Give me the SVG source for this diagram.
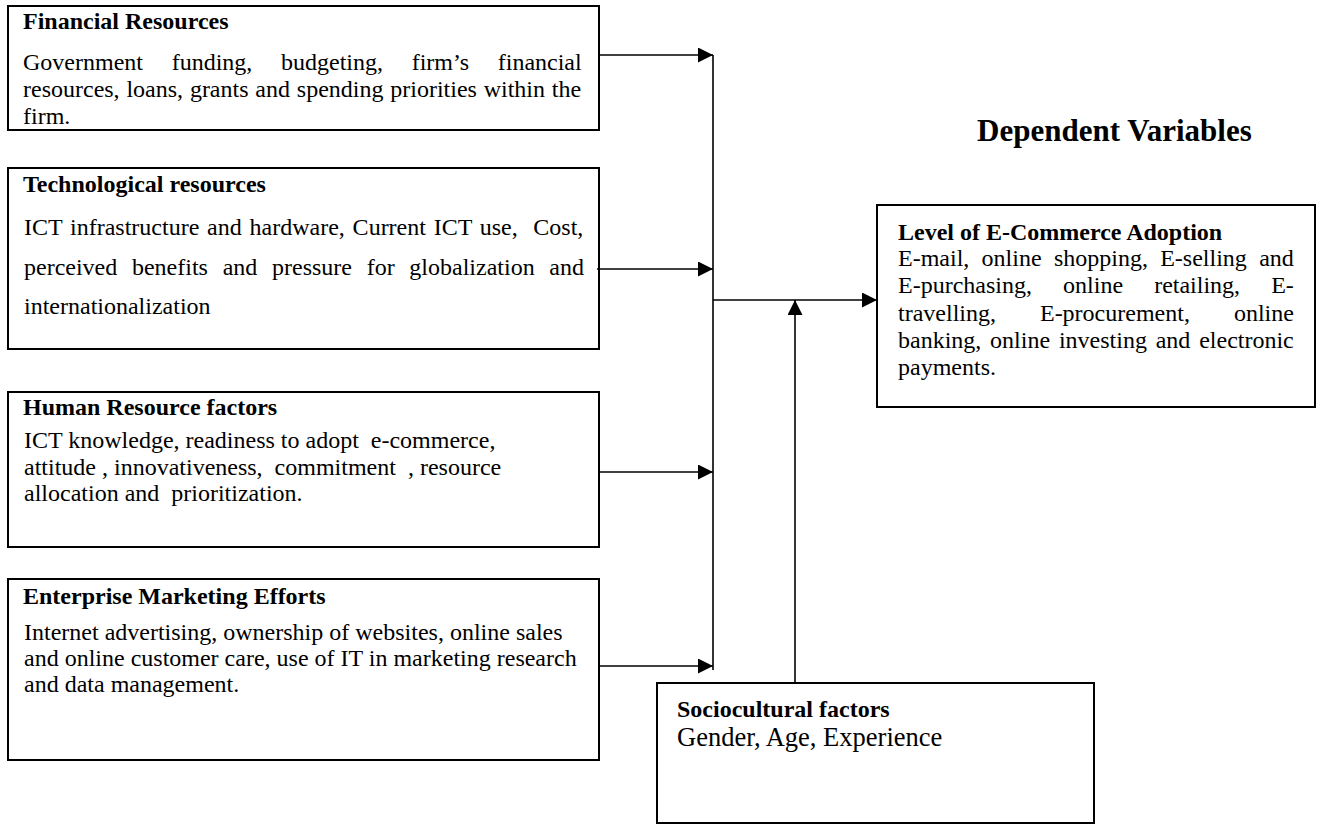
<svg xmlns="http://www.w3.org/2000/svg" width="1322" height="825" viewBox="0 0 1322 825">
<defs>
<style>
.box{fill:#fff;stroke:#000;stroke-width:2}
.h{font-family:"Liberation Serif","Times New Roman",serif;font-weight:bold;font-size:24px;fill:#000}
.t{font-family:"Liberation Serif","Times New Roman",serif;font-size:24px;fill:#000}
.c{fill:none;stroke:#000;stroke-width:1.6}
</style>
<marker id="ah" markerUnits="userSpaceOnUse" markerWidth="16" markerHeight="16" refX="15" refY="7.5" orient="auto">
<path d="M0,0 L15,7.5 L0,15 z" fill="#000"/>
</marker>
</defs>
<rect width="1322" height="825" fill="#fff"/>

<g id="financial">
<rect class="box" x="8" y="6" width="591" height="124"/>
<text class="h" x="23" y="29">Financial Resources</text>
<text class="t" x="23" y="70" word-spacing="22.7">Government funding, budgeting, firm’s financial</text>
<text class="t" x="23" y="97" word-spacing="0.8">resources, loans, grants and spending priorities within the</text>
<text class="t" x="23" y="124">firm.</text>
</g>

<g id="technological">
<rect class="box" x="8" y="168" width="591" height="181"/>
<text class="h" x="23" y="192">Technological resources</text>
<text class="t" x="24" y="235" word-spacing="1.8" xml:space="preserve">ICT infrastructure and hardware, Current ICT use,  Cost,</text>
<text class="t" x="24" y="275" word-spacing="8.7">perceived benefits and pressure for globalization and</text>
<text class="t" x="24" y="314">internationalization</text>
</g>

<g id="human">
<rect class="box" x="8" y="392" width="591" height="155"/>
<text class="h" x="23" y="415">Human Resource factors</text>
<text class="t" x="24" y="448" xml:space="preserve">ICT knowledge, readiness to adopt  e-commerce,</text>
<text class="t" x="24" y="475" xml:space="preserve">attitude , innovativeness,  commitment  , resource</text>
<text class="t" x="24" y="501" xml:space="preserve">allocation and  prioritization.</text>
</g>

<g id="enterprise">
<rect class="box" x="8" y="579" width="591" height="181"/>
<text class="h" x="23" y="604">Enterprise Marketing Efforts</text>
<text class="t" x="24" y="640">Internet advertising, ownership of websites, online sales</text>
<text class="t" x="24" y="666">and online customer care, use of IT in marketing research</text>
<text class="t" x="24" y="692">and data management.</text>
</g>

<g id="dependent-title">
<text class="h" x="977" y="141" style="font-size:31px">Dependent Variables</text>
</g>

<g id="adoption">
<rect class="box" x="877" y="205" width="438" height="202"/>
<text class="h" x="898" y="240">Level of E-Commerce Adoption</text>
<text class="t" x="898" y="266" word-spacing="6.3">E-mail, online shopping, E-selling and</text>
<text class="t" x="898" y="293" word-spacing="25.1">E-purchasing, online retailing, E-</text>
<text class="t" x="898" y="321" word-spacing="38">travelling, E-procurement, online</text>
<text class="t" x="898" y="348" word-spacing="2.8">banking, online investing and electronic</text>
<text class="t" x="898" y="375">payments.</text>
</g>

<g id="sociocultural">
<rect class="box" x="657" y="683" width="437" height="140"/>
<text class="h" x="677" y="717">Sociocultural factors</text>
<text class="t" x="677" y="746" style="font-size:26.5px">Gender, Age, Experience</text>
</g>

<g id="connectors">
<line class="c" x1="599" y1="55" x2="713" y2="55" marker-end="url(#ah)"/>
<line class="c" x1="597" y1="269" x2="713" y2="269" marker-end="url(#ah)"/>
<line class="c" x1="599" y1="472" x2="713" y2="472" marker-end="url(#ah)"/>
<line class="c" x1="599" y1="666" x2="713" y2="666" marker-end="url(#ah)"/>
<line class="c" x1="713" y1="55" x2="713" y2="670"/>
<line class="c" x1="713" y1="300" x2="877" y2="300" marker-end="url(#ah)"/>
<line class="c" x1="795" y1="683" x2="795" y2="300" marker-end="url(#ah)"/>
</g>
</svg>
